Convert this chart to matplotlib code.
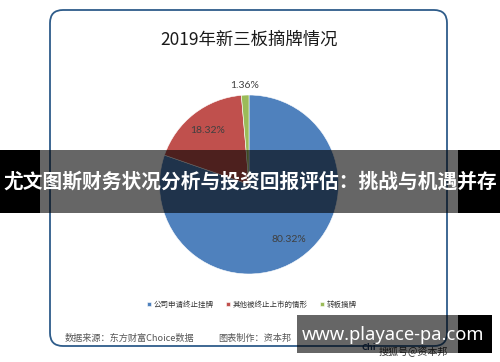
import matplotlib
matplotlib.use("Agg")
import matplotlib.pyplot as plt
from matplotlib.patches import FancyBboxPatch, Rectangle

# Data
labels = ["公司申请终止挂牌", "其他被终止上市的情形", "转板摘牌"]
shares = [80.32, 18.32, 1.36]
colors = ["#4F81BD", "#C0504D", "#9BBB59"]

title = "2019年新三板摘牌情况"
source = "数据来源：东方财富Choice数据"
maker = "图表制作：资本邦"
banner = "尤文图斯财务状况分析与投资回报评估：挑战与机遇并存"
site = "www.playace-pa.com"

cjk = ["Noto Sans CJK SC", "DejaVu Sans"]
plt.rcParams["font.family"] = cjk

W, H = 500, 362
fig = plt.figure(figsize=(W / 100, H / 100), dpi=100)
fig.patch.set_facecolor("white")

# background layer in pixel coords (y down)
bg = fig.add_axes([0, 0, 1, 1], zorder=0)
bg.set_xlim(0, W)
bg.set_ylim(H, 0)
bg.axis("off")
frame = FancyBboxPatch((50, 10), 397, 336, boxstyle="round,pad=0,rounding_size=13",
                       fc="white", ec="#2E5C8A", lw=1.3)
bg.add_patch(frame)
bg.text(249, 40, title, ha="center", va="center", fontsize=12.5, color="#1a1a1a")
bg.text(65, 338, source, ha="left", va="center", fontsize=6.6, color="#555555")
bg.text(218, 338, maker, ha="left", va="center", fontsize=6.6, color="#555555")
bg.text(379, 352, "搜狐号@资本邦", ha="left", va="center", fontsize=7.2, color="#333333")
bg.text(362, 347, "Chi", ha="left", va="center", fontsize=6.5, color="#1F3A60",
        weight="bold")

# pie
cx, cy, r = 249, 184.5, 89.5
ax = fig.add_axes([(cx - r) / W, (H - cy - r) / H, 2 * r / W, 2 * r / H], zorder=1)
wedges, texts, autotexts = ax.pie(shares, colors=colors, startangle=90, counterclock=False,
                                  autopct="%.2f%%", pctdistance=0.76,
                                  textprops=dict(fontsize=7.5, color="#404040", family="Lato"),
                                  wedgeprops=dict(linewidth=0.4, edgecolor="white"))
x, y = autotexts[2].get_position()
autotexts[2].set_position((x * 1.11 / 0.76, y * 1.11 / 0.76))
ax.set_xlim(-1, 1)
ax.set_ylim(-1, 1)
ax.set_aspect("auto")
ax.axis("off")

fig.legend(wedges, labels, loc="center", bbox_to_anchor=(252 / W, 1 - 305 / H), ncol=3,
           frameon=False, fontsize=5.4, handlelength=0.5, handleheight=0.5,
           handletextpad=0.4, columnspacing=1.6, labelcolor="#333333")

# overlay layer
top = fig.add_axes([0, 0, 1, 1], zorder=3)
top.set_xlim(0, W)
top.set_ylim(H, 0)
top.axis("off")
top.patch.set_alpha(0)
top.add_patch(Rectangle((0, 150), 40, 63, fc="black", ec="none"))
top.add_patch(Rectangle((458, 150), 42, 63, fc="black", ec="none"))
top.add_patch(Rectangle((40, 150), 418, 63, fc="black", alpha=0.6, ec="none"))
top.text(250, 182, banner, ha="center", va="center", fontsize=14.2, color="white",
         weight="bold")
top.add_patch(Rectangle((297, 315), 161, 38, fc="black", alpha=0.6, ec="none"))
top.add_patch(Rectangle((458, 315), 34, 38, fc="black", ec="none"))
top.text(393, 335, site, ha="center", va="center", fontsize=13.2, color="white",
         weight="bold", family=["Noto Sans", "DejaVu Sans"])

fig.savefig("out.png", dpi=100)
